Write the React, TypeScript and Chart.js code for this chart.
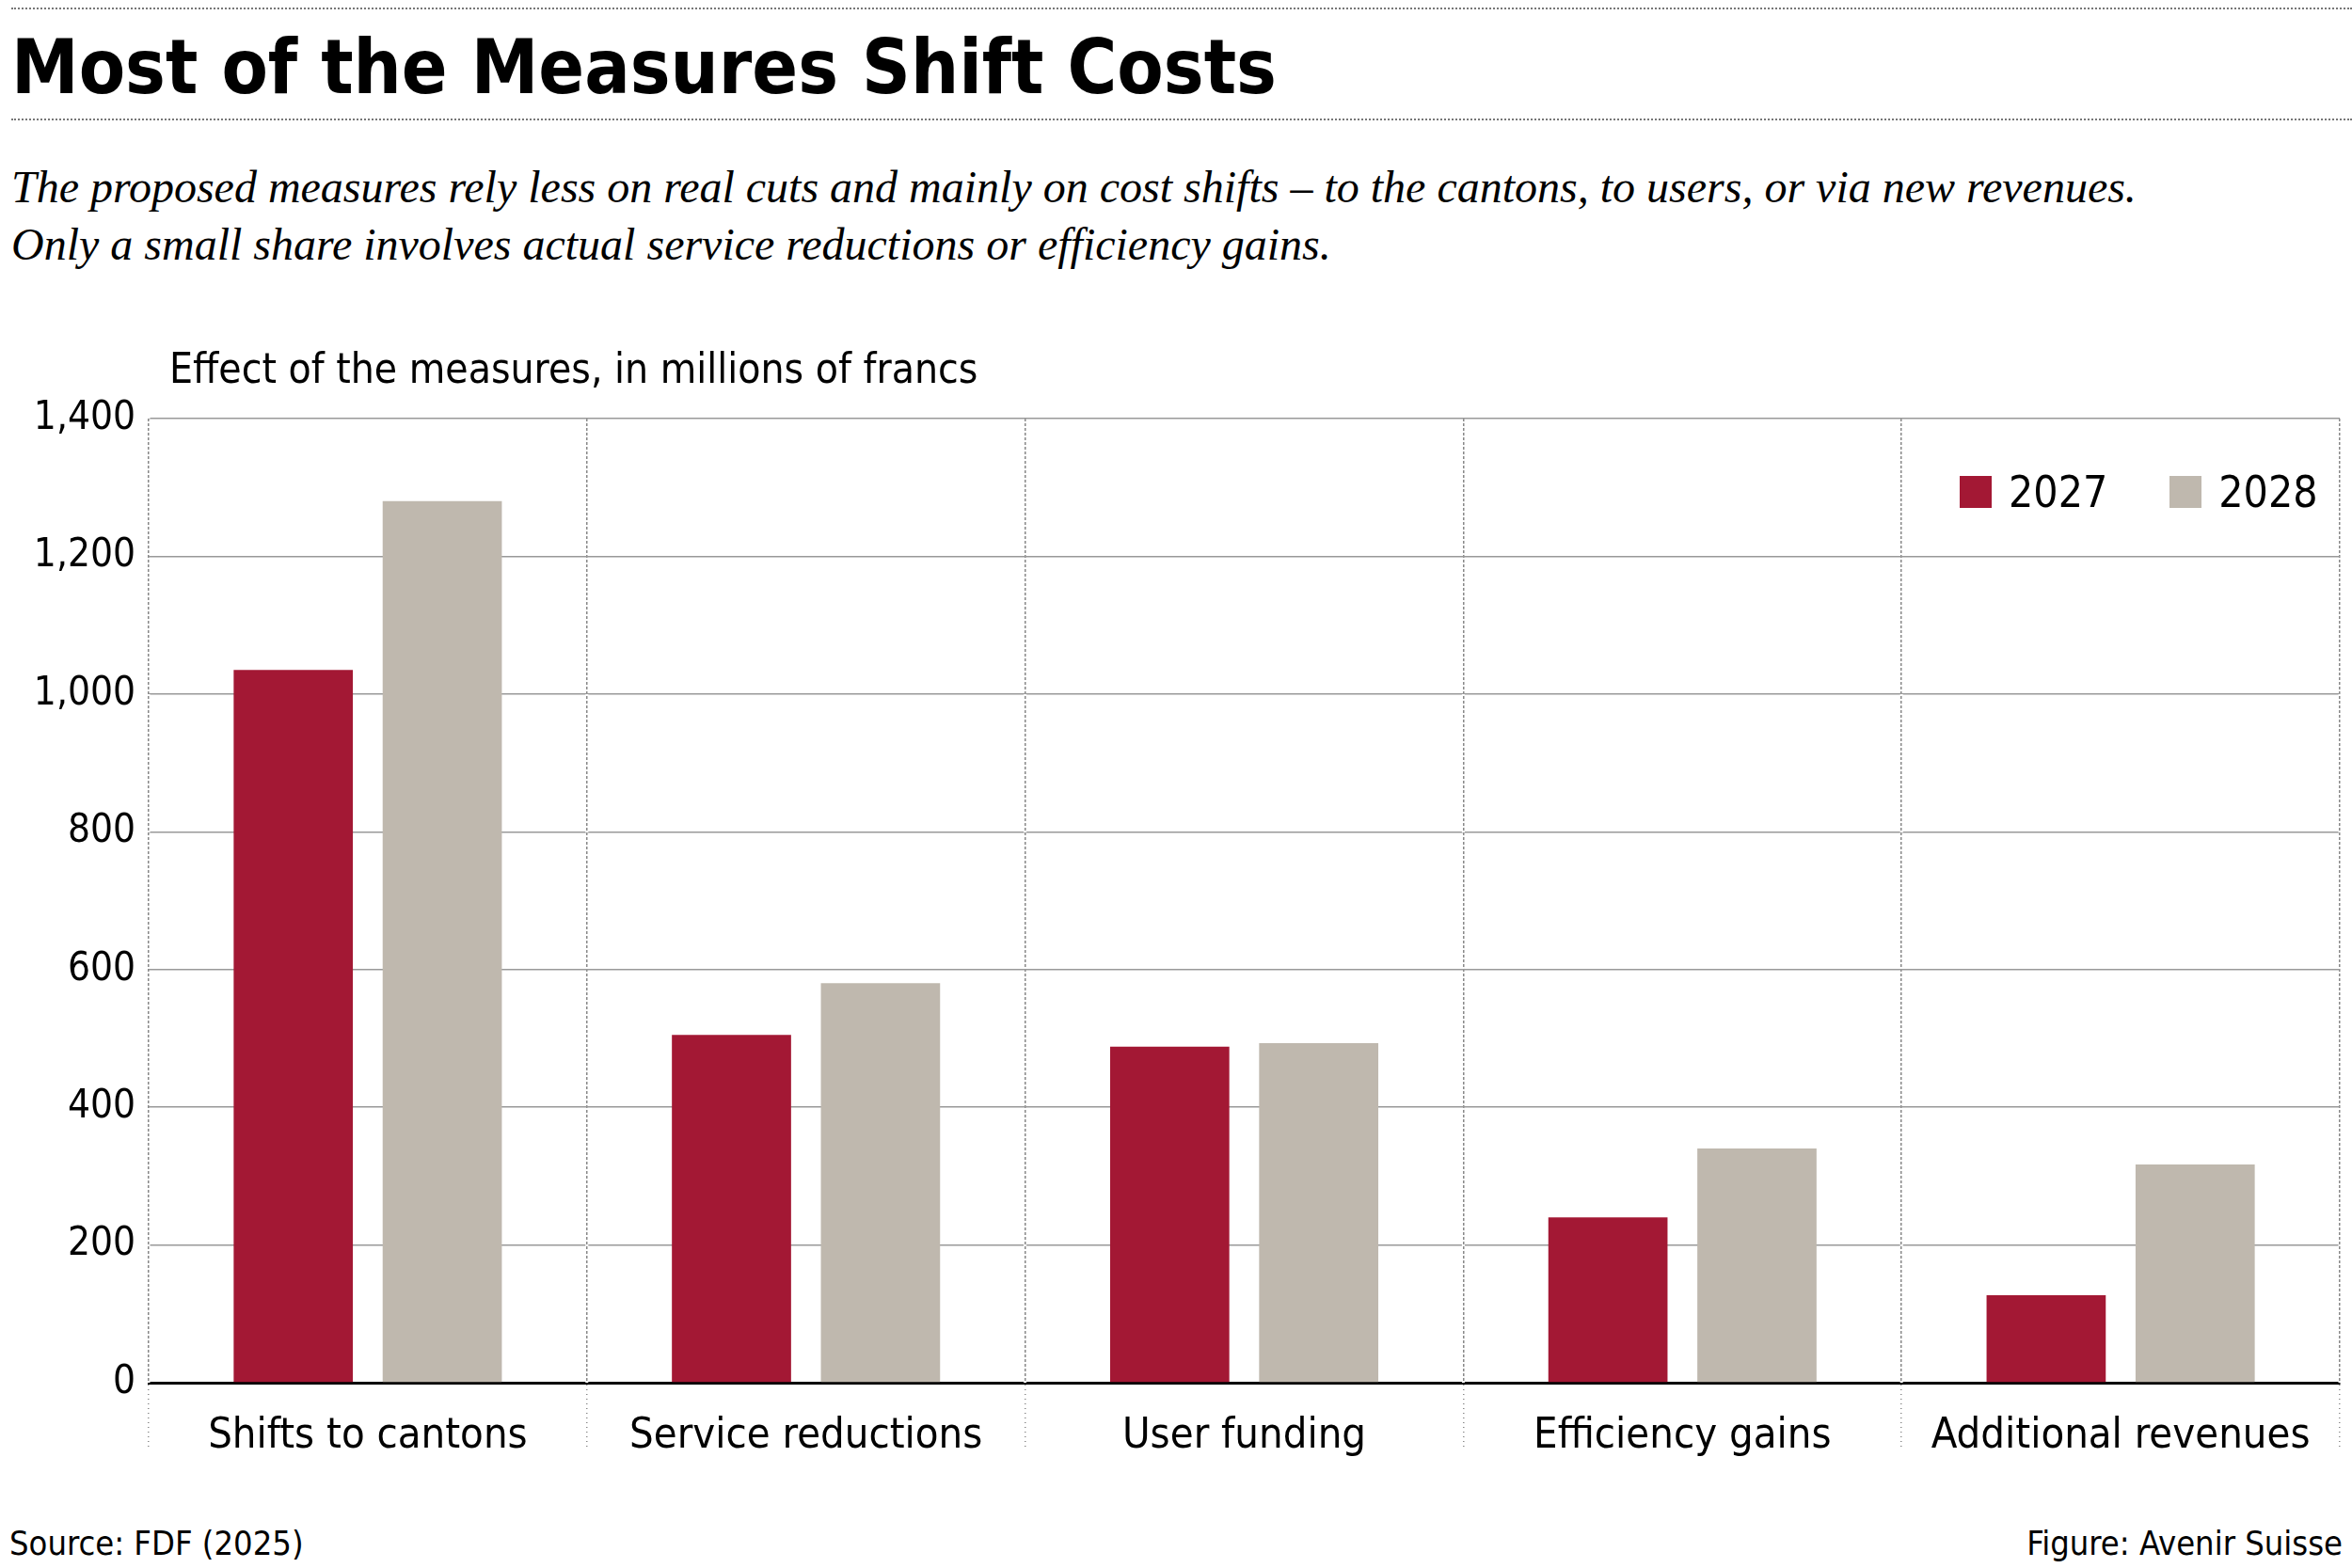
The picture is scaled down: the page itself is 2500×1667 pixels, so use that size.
import React, { useEffect, useRef } from "react";
import { Chart, registerables } from "chart.js";
Chart.register(...registerables);

const categories = ["Shifts to cantons", "Service reductions", "User funding", "Efficiency gains", "Additional revenues"];
const values2027 = [1035, 505, 488, 240, 127];
const values2028 = [1280, 580, 493, 340, 317];
const seriesLabels = ["2027", "2028"];
const RED = "#A31834";
const GREY = "#BFB8AE";
const FONT = "'Liberation Sans Narrow', 'DejaVu Sans Condensed', sans-serif";

export default function App() {
  const ref = useRef<HTMLCanvasElement>(null);
  useEffect(() => {
    const ctx = ref.current!;
    const chart = new Chart(ctx, {
      type: "bar",
      data: {
        labels: categories,
        datasets: [
          { label: seriesLabels[0], data: values2027, backgroundColor: RED, categoryPercentage: 0.68, barPercentage: 0.8 },
          { label: seriesLabels[1], data: values2028, backgroundColor: GREY, categoryPercentage: 0.68, barPercentage: 0.8 },
        ],
      },
      options: {
        animation: false,
        responsive: false,
        layout: { padding: { top: 85, right: 13, left: 0, bottom: 0 } },
        plugins: { legend: { display: false }, tooltip: { enabled: false } },
        scales: {
          x: {
            offset: true,
            grid: {
              offset: true,
              color: "#888",
              lineWidth: 1.5,
              tickLength: 70,
              tickBorderDash: [2, 3],
              drawOnChartArea: true,
            },
            border: { display: true, color: "#000", width: 3 },
            ticks: { color: "#000", font: { family: FONT, size: 45 }, padding: -40 },
            afterFit: (s: any) => { s.height = 140; },
          },
          y: {
            min: 0,
            max: 1400,
            ticks: {
              stepSize: 200,
              color: "#000",
              font: { family: FONT, size: 42 },
              padding: 14,
              callback: (v: any) => Number(v).toLocaleString("en-US"),
            },
            grid: { color: "#999", lineWidth: 1.5, tickLength: 0, drawTicks: false },
            border: { display: false },
            afterFit: (s: any) => { s.width = 158; },
          },
        },
      },
      plugins: [
        {
          id: "dashes",
          beforeDatasetsDraw(c: any) {
            const { ctx: g, chartArea, scales } = c;
            // overlay dashed vertical lines
            g.save();
            g.strokeStyle = "#fff";
            g.lineWidth = 3;
            g.setLineDash([2, 3]);
            g.lineDashOffset = 2;
            const xs = scales.x;
            const n = categories.length;
            for (let i = 0; i <= n; i++) {
              const x = i === n ? chartArea.right : xs.getPixelForValue(i) - (xs.getPixelForValue(1) - xs.getPixelForValue(0)) / 2;
              g.beginPath();
              g.moveTo(x, i === 0 ? chartArea.top - 70 : chartArea.top);
              g.lineTo(x, chartArea.bottom + 72);
              g.stroke();
            }
            g.restore();
          },
        },
      ],
    });
    return () => chart.destroy();
  }, []);

  const abs = (o: any): React.CSSProperties => ({ position: "absolute", margin: 0, ...o });
  return (
    <div style={{ position: "absolute", left: 0, top: 0, width: 2500, height: 1667, background: "#fff", overflow: "hidden" }}>
      <div style={abs({ left: 12, right: 0, top: 8, borderTop: "2px dotted #777" })} />
      <div style={abs({ left: 12, top: 22, fontFamily: FONT, fontWeight: "bold", fontSize: 80, color: "#000", lineHeight: "100px" })}>
        Most of the Measures Shift Costs
      </div>
      <div style={abs({ left: 12, right: 0, top: 126, borderTop: "2px dotted #777" })} />
      <div style={abs({ left: 12, top: 168, fontFamily: "'Liberation Serif', serif", fontStyle: "italic", fontSize: 48, lineHeight: "61px", color: "#000" })}>
        The proposed measures rely less on real cuts and mainly on cost shifts – to the cantons, to users, or via new revenues.<br />
        Only a small share involves actual service reductions or efficiency gains.
      </div>
      <canvas ref={ref} width={2500} height={1250} style={abs({ left: 0, top: 360, width: 2500, height: 1250 })} />
      <div style={abs({ left: 180, top: 366, fontFamily: FONT, fontSize: 44, color: "#000" })}>Effect of the measures, in millions of francs</div>
      <div style={abs({ left: 2083, top: 496, fontFamily: FONT, fontSize: 46, color: "#000", display: "flex", alignItems: "center" })}>
        <span style={{ width: 34, height: 34, background: RED, display: "inline-block", marginRight: 18 }} />
        <span style={{ marginRight: 66 }}>{seriesLabels[0]}</span>
        <span style={{ width: 34, height: 34, background: GREY, display: "inline-block", marginRight: 18 }} />
        <span>{seriesLabels[1]}</span>
      </div>
      <div style={abs({ left: 10, top: 1620, fontFamily: FONT, fontSize: 36, color: "#000" })}>Source: FDF (2025)</div>
      <div style={abs({ right: 10, top: 1620, fontFamily: FONT, fontSize: 36, color: "#000" })}>Figure: Avenir Suisse</div>
    </div>
  );
}
